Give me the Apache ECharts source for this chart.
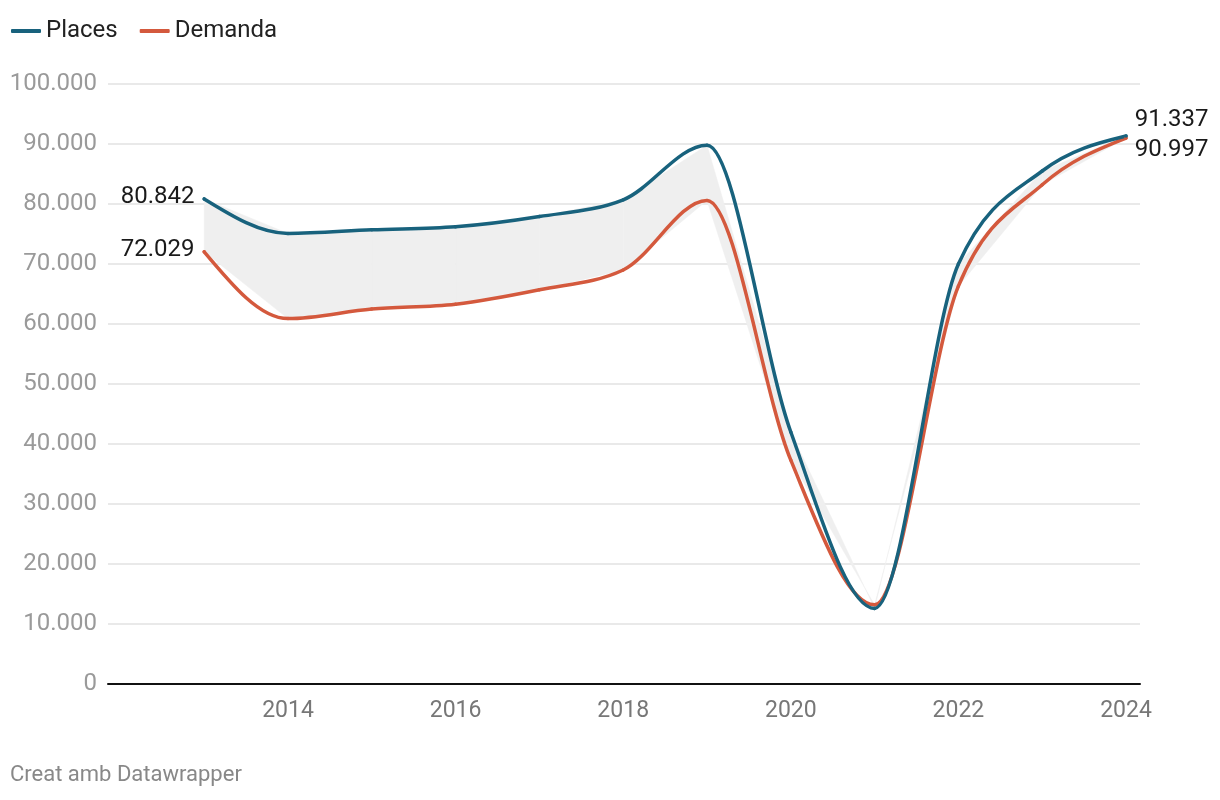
<!DOCTYPE html>
<html>
<head>
<meta charset="utf-8">
<script src="https://cdn.jsdelivr.net/npm/echarts@6/dist/echarts.min.js"></script>
<style>
html,body{margin:0;padding:0;background:#fff;}
#chart{width:1220px;height:800px;}
</style>
</head>
<body>
<div id="chart"></div>
<script>
const years = [2013, 2014, 2015, 2016, 2017, 2018, 2019, 2020, 2021, 2022, 2023, 2024];
const places = [80842, 75100, 75700, 76200, 77900, 80700, 89800, 42000, 12600, 70000, 85500, 91337];
const demanda = [72029, 60900, 62500, 63300, 65700, 69000, 80600, 37300, 13200, 66300, 83200, 90997];
const xTicks = [2014, 2016, 2018, 2020, 2022, 2024];
const yTicks = [0, 10000, 20000, 30000, 40000, 50000, 60000, 70000, 80000, 90000, 100000];

const fmt = v => String(Math.round(v)).replace(/\B(?=(\d{3})+(?!\d))/g, '.');
const FONT = 'Roboto';
const BLUE = '#18627d';
const RED = '#d4593d';

function lineData(vals, color, startOffset, endOffset) {
  return vals.map((v, i) => {
    const item = { value: [years[i], v] };
    if (i === 0 || i === vals.length - 1) {
      item.symbol = 'circle';
      item.symbolSize = 3.5;
      item.itemStyle = { color: color };
      item.label = {
        show: true,
        position: i === 0 ? 'left' : 'right',
        distance: i === 0 ? 8 : 7,
        offset: i === 0 ? startOffset : endOffset,
        color: '#1a1a1a', fontSize: 24, fontFamily: FONT,
        formatter: p => fmt(p.value[1])
      };
    } else {
      item.symbol = 'none';
    }
    return item;
  });
}

// monotone-x cubic tangents (pixel space), as in d3.curveMonotoneX
function sgn(x) { return x < 0 ? -1 : 1; }
function monotoneTangents(pts) {
  const n = pts.length, t = new Array(n).fill(0);
  for (let i = 1; i < n - 1; i++) {
    const h0 = pts[i][0] - pts[i - 1][0], h1 = pts[i + 1][0] - pts[i][0];
    const s0 = (pts[i][1] - pts[i - 1][1]) / h0, s1 = (pts[i + 1][1] - pts[i][1]) / h1;
    const p = (s0 * h1 + s1 * h0) / (h0 + h1);
    t[i] = (sgn(s0) + sgn(s1)) * Math.min(Math.abs(s0), Math.abs(s1), 0.5 * Math.abs(p)) || 0;
  }
  const hA = pts[1][0] - pts[0][0];
  t[0] = (3 * (pts[1][1] - pts[0][1]) / hA - t[1]) / 2;
  const hB = pts[n - 1][0] - pts[n - 2][0];
  t[n - 1] = (3 * (pts[n - 1][1] - pts[n - 2][1]) / hB - t[n - 2]) / 2;
  return t;
}
function curveRenderer(vals, color) {
  return function (params, api) {
    const i = params.dataIndex;
    if (i >= vals.length - 1) return null;
    const pts = vals.map((v, k) => api.coord([years[k], v]));
    const t = monotoneTangents(pts);
    const p0 = pts[i], p1 = pts[i + 1];
    const dx = (p1[0] - p0[0]) / 3;
    return {
      type: 'bezierCurve',
      shape: {
        x1: p0[0], y1: p0[1],
        cpx1: p0[0] + dx, cpy1: p0[1] + dx * t[i],
        cpx2: p1[0] - dx, cpy2: p1[1] - dx * t[i + 1],
        x2: p1[0], y2: p1[1]
      },
      style: { fill: null, stroke: color, lineWidth: 3.5, lineCap: 'round' }
    };
  };
}

// band segments between consecutive years (linear)
const bandSegments = years.slice(0, -1).map((y, i) => [y, places[i], demanda[i], years[i + 1], places[i + 1], demanda[i + 1]]);

const chart = echarts.init(document.getElementById('chart'), null, { renderer: 'canvas' });
chart.setOption({
  animation: false,
  backgroundColor: '#fff',
  textStyle: { fontFamily: FONT },
  legend: {
    left: 6, top: 14,
    icon: 'roundRect',
    itemWidth: 30, itemHeight: 4,
    itemGap: 22,
    textStyle: { fontFamily: FONT, fontSize: 24, color: '#222' },
    data: [
      { name: 'Places', itemStyle: { color: BLUE } },
      { name: 'Demanda', itemStyle: { color: RED } }
    ]
  },
  grid: { left: 108, right: 80, top: 84, bottom: 116, containLabel: false },
  xAxis: {
    type: 'value',
    min: 2011.852, max: 2024.167,
    axisLine: { show: true, onZero: false, lineStyle: { color: '#111', width: 2 } },
    axisTick: { show: false },
    splitLine: { show: false },
    axisLabel: {
      customValues: xTicks,
      color: '#777', fontSize: 23, fontFamily: FONT, margin: 16,
      formatter: v => String(v)
    }
  },
  yAxis: {
    type: 'value',
    min: 0, max: 100000, interval: 10000,
    axisLine: { show: false },
    axisTick: { show: false },
    splitLine: { show: true, lineStyle: { color: '#e2e2e2', width: 1.5 } },
    axisLabel: {
      color: '#9a9a9a', fontSize: 24, fontFamily: FONT, margin: 11,
      formatter: v => fmt(v)
    }
  },
  series: [
    {
      name: 'band', type: 'custom', silent: true, z: 1,
      data: bandSegments,
      encode: { x: [0, 3], y: [1, 2, 4, 5] },
      renderItem: function (params, api) {
        const a = api.coord([api.value(0), api.value(1)]);
        const b = api.coord([api.value(3), api.value(4)]);
        const c = api.coord([api.value(3), api.value(5)]);
        const d = api.coord([api.value(0), api.value(2)]);
        return {
          type: 'polygon',
          shape: { points: [a, b, c, d] },
          style: { fill: '#efefef', stroke: '#efefef', lineWidth: 0.5 }
        };
      }
    },
    {
      name: 'Demanda', type: 'custom', silent: true, z: 3,
      itemStyle: { color: RED },
      data: years.map((y, i) => [y, demanda[i]]),
      encode: { x: 0, y: 1 },
      renderItem: curveRenderer(demanda, RED)
    },
    {
      name: 'Places', type: 'custom', silent: true, z: 4,
      itemStyle: { color: BLUE },
      data: years.map((y, i) => [y, places[i]]),
      encode: { x: 0, y: 1 },
      renderItem: curveRenderer(places, BLUE)
    },
    {
      name: 'Demanda', type: 'line', color: RED,
      data: lineData(demanda, RED, [0, -2], [0, 12]),
      lineStyle: { width: 0, opacity: 0 },
      z: 5
    },
    {
      name: 'Places', type: 'line', color: BLUE,
      data: lineData(places, BLUE, [0, -2], [0, -16]),
      lineStyle: { width: 0, opacity: 0 },
      z: 6
    }
  ],
  graphic: [
    { type: 'text', left: 10, top: 764, style: { text: 'Creat amb Datawrapper', fill: '#888', fontSize: 22, fontFamily: FONT } }
  ]
});
</script>
</body>
</html>
